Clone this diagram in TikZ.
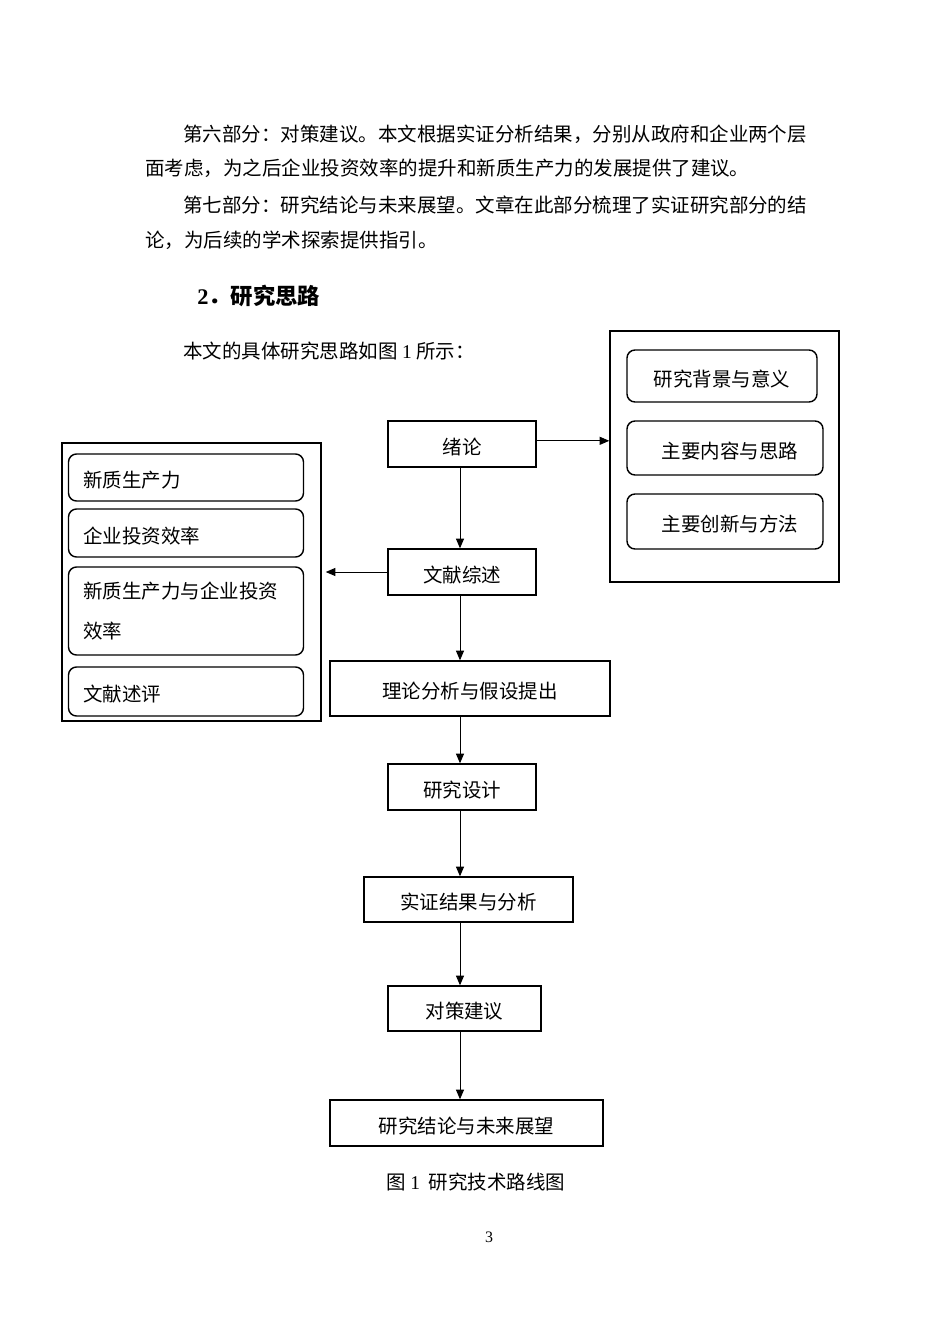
\documentclass[tikz,border=0pt]{standalone}
\usepackage{fontspec}
\setmainfont{Liberation Serif}
\newfontfamily\cjk{Noto Sans CJK SC}
\definecolor{rtInk}{HTML}{000000}
\usetikzlibrary{arrows.meta,positioning,calc}

\begin{document}
\begin{tikzpicture}[x=0.626pt,y=-0.626pt,font=\cjk\fontsize{12.2pt}{22pt}\selectfont,
  frame/.style={draw=rtInk,line width=0.9pt,inner sep=0pt},
  stepbox/.style={frame,inner sep=0pt,text height=14.5pt,text depth=1.5pt},
  sub/.style={frame,rounded corners=5pt},
  rsub/.style={sub,text height=14.5pt,text depth=1.5pt},
  lsub/.style={sub,text width=205*0.626pt,inner xsep=15*0.626pt,align=left},
  line/.style={rtInk,line width=0.6pt,-{Triangle[length=6pt,width=5pt]}},
  body/.style={anchor=west,inner sep=0pt}]
\def\u{0.626pt}
\useasboundingbox (0,0) rectangle (950,1344);
% page text
\node[body] (p1) at (183,134) {第六部分：对策建议。本文根据实证分析结果，分别从政府和企业两个层};
\node[body] (p2) at (145,168) {面考虑，为之后企业投资效率的提升和新质生产力的发展提供了建议。};
\node[body] (p3) at (183,205) {第七部分：研究结论与未来展望。文章在此部分梳理了实证研究部分的结};
\node[body] (p4) at (145,240) {论，为后续的学术探索提供指引。};
\node[body,font=\cjk\bfseries\fontsize{14pt}{22pt}\selectfont] (head) at (197,296) {{\rmfamily\bfseries 2}．研究思路};
\node[body] (p5) at (183,351) {本文的具体研究思路如图~{\rmfamily 1}~所示：};
% main column
\node[stepbox,minimum width=148*\u,minimum height=46*\u] (xulun)    at (462,444)   {绪论};
\node[stepbox,minimum width=148*\u,minimum height=46*\u] (wenxian)  at (462,572)   {文献综述};
\node[stepbox,minimum width=280*\u,minimum height=55*\u] (lilun)    at (470,688.5) {理论分析与假设提出};
\node[stepbox,minimum width=148*\u,minimum height=46*\u] (sheji)    at (462,787)   {研究设计};
\node[stepbox,minimum width=209*\u,minimum height=45*\u] (shizheng) at (468.5,899.5) {实证结果与分析};
\node[stepbox,minimum width=153*\u,minimum height=45*\u] (duice)    at (464.5,1008.5) {对策建议};
\node[stepbox,minimum width=273*\u,minimum height=46*\u] (jielun)   at (466.5,1123) {研究结论与未来展望};
% right frame
\node[frame,minimum width=229*\u,minimum height=251*\u] (bgframe) at (724.5,456.5) {};
\node[rsub,minimum width=190*\u,minimum height=52*\u] (bg1) at (722,376)   {研究背景与意义};
\node[rsub,minimum width=196*\u,minimum height=54*\u] (bg2) at (725,448)   {\hspace*{6pt}主要内容与思路};
\node[rsub,minimum width=196*\u,minimum height=55*\u] (bg3) at (725,521.5) {\hspace*{6pt}主要创新与方法};
% left frame
\node[frame,minimum width=259*\u,minimum height=278*\u] (litframe) at (191.5,582) {};
\node[lsub,minimum height=47*\u,text height=14.5pt,text depth=1.5pt] (lit1) at (186,477.5) {新质生产力};
\node[lsub,minimum height=48*\u,text height=14.5pt,text depth=1.5pt] (lit2) at (186,533)   {企业投资效率};
\node[lsub,minimum height=88*\u] (lit3) at (186,611)   {\vspace*{3pt}新质生产力与企业投资\\效率};
\node[lsub,minimum height=49*\u,text height=14.5pt,text depth=1.5pt] (lit4) at (186,691.5) {文献述评};
% connectors
\coordinate (col) at (460,0);
\draw[line] ([yshift=2pt]xulun.east) -- ([yshift=2pt]xulun.east -| bgframe.west);
\draw[line] (wenxian.west) -- ($(wenxian.west -| litframe.east)+(4,0)$);
\foreach \a/\b in {xulun/wenxian,wenxian/lilun,lilun/sheji,sheji/shizheng,shizheng/duice,duice/jielun}
  \draw[line] (\a.south -| col) -- (\b.north -| col);
% caption and page number
\node[inner sep=0pt] (cap) at (476,1182) {图~{\rmfamily 1}~~研究技术路线图};
\node[inner sep=0pt,font=\rmfamily\fontsize{10pt}{12pt}\selectfont] (pg) at (489,1237) {3};
\end{tikzpicture}
\end{document}
